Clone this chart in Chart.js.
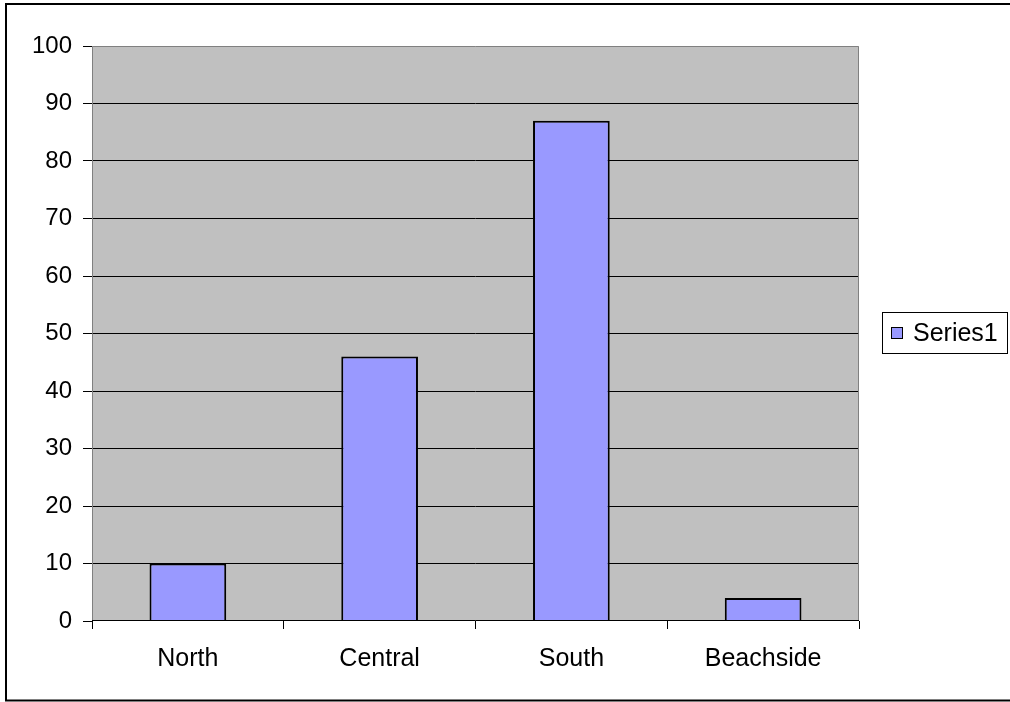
<!DOCTYPE html>
<html>
<head>
<meta charset="utf-8">
<script src="https://cdn.jsdelivr.net/npm/chart.js@4.4.0/dist/chart.umd.min.js"></script>
<style>
  html, body { margin: 0; padding: 0; background: #fff; }
  #wrap { width: 1010px; height: 702px; position: relative; }
</style>
</head>
<body>
<div id="wrap"><canvas id="chart" width="1010" height="702"></canvas></div>
<script>
const categories = ['North', 'Central', 'South', 'Beachside'];
const series1 = [10, 46, 87, 4];
const seriesName = 'Series1';
const yTicks = [0, 10, 20, 30, 40, 50, 60, 70, 80, 90, 100];

const FONT = 'Arial, "Liberation Sans", sans-serif';

// grey plot area, outer frame and plot border
const frame = {
  id: 'frame',
  beforeDraw(chart) {
    const c = chart.ctx, a = chart.chartArea;
    c.save();
    c.fillStyle = '#fff';
    c.fillRect(0, 0, chart.width, chart.height);
    c.fillStyle = '#c0c0c0';
    c.fillRect(a.left, a.top, a.right - a.left, a.bottom - a.top);
    c.strokeStyle = '#000';
    c.lineWidth = 2;
    c.strokeRect(6, 4, chart.width + 10, chart.height - 4 - 1.5);
    c.restore();
  },
  afterDatasetsDraw(chart) {
    const c = chart.ctx, a = chart.chartArea;
    c.save();
    c.strokeStyle = '#808080';
    c.lineWidth = 1;
    c.beginPath();
    c.moveTo(a.left + 0.5, a.bottom);
    c.lineTo(a.left + 0.5, a.top + 0.5);
    c.lineTo(a.right - 0.5, a.top + 0.5);
    c.lineTo(a.right - 0.5, a.bottom);
    c.stroke();
    c.strokeStyle = '#000';
    c.beginPath();
    c.moveTo(a.left, a.bottom - 0.5);
    c.lineTo(a.right, a.bottom - 0.5);
    c.stroke();
    c.restore();
  }
};

// boxed legend on the right
const boxLegend = {
  id: 'boxLegend',
  afterDraw(chart) {
    const c = chart.ctx;
    const ds = chart.data.datasets[0];
    const x = 882, y = 312, w = 126, h = 42;
    c.save();
    c.fillStyle = '#fff';
    c.fillRect(x, y, w, h);
    c.strokeStyle = '#000';
    c.lineWidth = 1;
    c.strokeRect(x + 0.5, y + 0.5, w - 1, h - 1);
    c.fillStyle = ds.backgroundColor;
    c.fillRect(891, 327, 11, 11);
    c.strokeRect(891.5, 327.5, 11, 11);
    c.fillStyle = '#000';
    c.font = '25px ' + FONT;
    c.textBaseline = 'middle';
    c.fillText(ds.label, 913, 334);
    c.restore();
  }
};

new Chart(document.getElementById('chart'), {
  type: 'bar',
  data: {
    labels: categories,
    datasets: [{
      label: seriesName,
      data: series1,
      backgroundColor: '#9999ff',
      borderColor: '#000',
      borderWidth: 2,
      barPercentage: 0.4,
      categoryPercentage: 1.0
    }]
  },
  options: {
    responsive: false,
    animation: false,
    layout: { padding: { left: 0, top: 46, right: 151, bottom: 0 } },
    plugins: {
      legend: { display: false },
      tooltip: { enabled: false }
    },
    scales: {
      x: {
        offset: true,
        grid: { display: true, drawOnChartArea: false, offset: true, tickLength: 8, tickColor: '#000' },
        border: { display: false },
        ticks: { color: '#000', font: { family: FONT, size: 25 }, padding: 15, maxRotation: 0 },
        afterFit(scale) { scale.height = 81; }
      },
      y: {
        min: 0,
        max: 100,
        afterBuildTicks(scale) { scale.ticks = yTicks.map(v => ({ value: v })); },
        grid: {
          color: ctx => (ctx.tick && (ctx.tick.value === 100 || ctx.tick.value === 0)) ? 'rgba(0,0,0,0)' : '#000',
          tickColor: '#000',
          tickLength: 9,
          lineWidth: 1
        },
        border: { display: false },
        ticks: { color: '#000', font: { family: FONT, size: 24 }, padding: 11 },
        afterFit(scale) { scale.width = 92; }
      }
    }
  },
  plugins: [frame, boxLegend]
});
</script>
</body>
</html>
